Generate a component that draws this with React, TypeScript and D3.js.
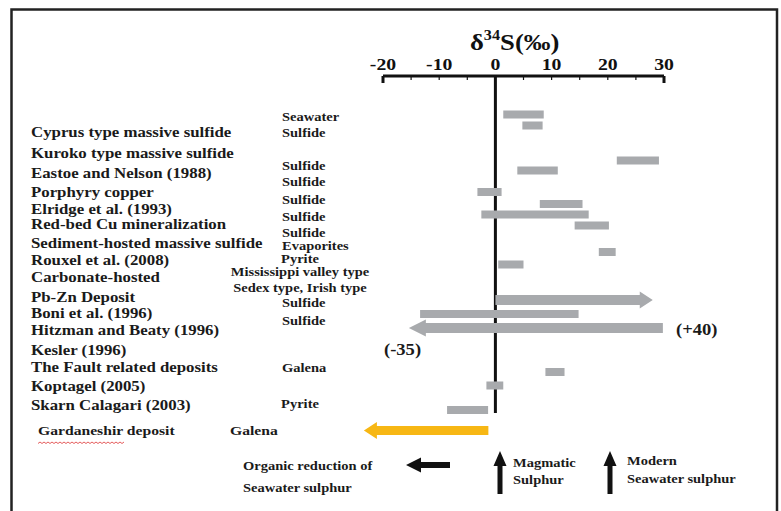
import React from "react";
import * as d3 from "d3";

// ---- data ----
const tickValues = [-20, -10, 0, 10, 20, 30];
const minorTicks = [-20, -15, -10, -5, 5, 10, 15, 20, 25, 30];

// gray ranges: [from, to, row]
const barFrom = [1.4, 4.8, 21.6, 3.9, -3.2, 7.9, -2.5, 14.1, 18.4, 0.5, -13.4, 8.9, -1.6, -8.6];
const barTo = [8.6, 8.4, 29.1, 11.1, 1.1, 15.5, 16.6, 20.2, 21.4, 5.0, 14.8, 12.3, 1.4, -1.3];
const barRow = [1.45, 2.55, 6.05, 7.05, 9.2, 10.4, 11.45, 12.55, 15.2, 16.45, 21.4, 27.2, 28.55, 31.0];

// arrows: tail value, tip value, row
const arrowTail = [0, 29.8];
const arrowTip = [28.0, -15.4];
const arrowRow = [20.0, 22.8];

const gardTail = -1.25;
const gardTip = -23.4;
const gardRow = 33.05;

const leftLabels = [
  "Cyprus type massive sulfide",
  "Kuroko type massive sulfide",
  "Eastoe and Nelson (1988)",
  "Porphyry copper",
  "Elridge et al. (1993)",
  "Red-bed Cu mineralization",
  "Sediment-hosted massive sulfide",
  "Rouxel et al. (2008)",
  "Carbonate-hosted",
  "Pb-Zn Deposit",
  "Boni et al. (1996)",
  "Hitzman and Beaty (1996)",
  "Kesler (1996)",
  "The Fault related deposits",
  "Koptagel (2005)",
  "Skarn Calagari (2003)",
];
const leftRows = [3.2, 5.3, 7.3, 9.2, 10.9, 12.4, 14.3, 16.0, 17.7, 19.7, 21.3, 23.0, 25.0, 26.7, 28.6, 30.5];

const midLeftLabels = ["Seawater", "Sulfide", "Sulfide", "Sulfide", "Sulfide", "Sulfide", "Sulfide", "Evaporites", "Sulfide", "Sulfide", "Galena"];
const midLeftRows = [1.7, 3.3, 6.6, 8.2, 10.0, 11.7, 13.3, 14.6, 20.3, 22.1, 26.8];

const midCenterLabels = ["Pyrite", "Mississippi valley type", "Sedex type, Irish type", "Pyrite"];
const midCenterRows = [15.9, 17.2, 18.8, 30.4];

const rangeNotes = ["(+40)", "(-35)"];

const FONT = "'Liberation Serif', 'Times New Roman', serif";
const SX = 1.16;

type TProps = {
  x: number;
  y: number;
  size: number;
  anchor?: "start" | "middle" | "end";
  children: React.ReactNode;
};
function T({ x, y, size, anchor = "start", children }: TProps) {
  return (
    <text
      transform={`translate(${x},${y}) scale(${SX},1)`}
      textAnchor={anchor}
      dominantBaseline="central"
      fontSize={size}
      fontWeight="bold"
      fill="#1a1a1a"
      fontFamily={FONT}
    >
      {children}
    </text>
  );
}

export default function App() {
  const W = 781, H = 511;
  const x = d3.scaleLinear().domain([-20, 30]).range([383, 664]);
  const y = d3.scaleLinear().domain([0, 34]).range([100, 440]);
  const axisY = 76;
  const gray = "#a8aaad";
  const barH = 8;

  const hArrow = (tail: number, tip: number, cy: number, shaftH: number, headH: number, headL: number) => {
    const xt = x(tail), xp = x(tip);
    const dir = xp > xt ? 1 : -1;
    const xb = xp - dir * headL;
    const p = d3.path();
    p.moveTo(xt, cy - shaftH / 2);
    p.lineTo(xb, cy - shaftH / 2);
    p.lineTo(xb, cy - headH / 2);
    p.lineTo(xp, cy);
    p.lineTo(xb, cy + headH / 2);
    p.lineTo(xb, cy + shaftH / 2);
    p.lineTo(xt, cy + shaftH / 2);
    p.closePath();
    return p.toString();
  };

  const upArrow = (cx: number, tipY: number, baseY: number, shaftW: number, headW: number, headL: number) => {
    const p = d3.path();
    p.moveTo(cx, tipY);
    p.lineTo(cx + headW / 2, tipY + headL);
    p.lineTo(cx + shaftW / 2, tipY + headL);
    p.lineTo(cx + shaftW / 2, baseY);
    p.lineTo(cx - shaftW / 2, baseY);
    p.lineTo(cx - shaftW / 2, tipY + headL);
    p.lineTo(cx - headW / 2, tipY + headL);
    p.closePath();
    return p.toString();
  };

  const leftArrow = () => {
    const p = d3.path();
    const cy = 465, tip = 406, tail = 450, sh = 6, hh = 15, hl = 15;
    p.moveTo(tail, cy - sh / 2);
    p.lineTo(tip + hl, cy - sh / 2);
    p.lineTo(tip + hl, cy - hh / 2);
    p.lineTo(tip, cy);
    p.lineTo(tip + hl, cy + hh / 2);
    p.lineTo(tip + hl, cy + sh / 2);
    p.lineTo(tail, cy + sh / 2);
    p.closePath();
    return p.toString();
  };

  // wavy underline for Gardaneshir
  const wavy = (() => {
    const pts: [number, number][] = [];
    for (let xx = 38; xx <= 124; xx += 2) pts.push([xx, 442 + ((xx / 2) % 2 === 0 ? 0 : 1.5)]);
    return d3.line()(pts) || "";
  })();

  return (
    <svg width={W} height={H} style={{ position: "absolute", left: 0, top: 0, background: "#fff" }} fontFamily={FONT}>
      <rect x={0} y={0} width={W} height={H} fill="#fff" />
      <rect x={11.5} y={9.5} width={765.5} height={520} fill="none" stroke="#222" strokeWidth={2.5} />

      {/* title */}
      <text transform={`translate(470,50) scale(${SX},1)`} fontSize={23} fontWeight="bold" fill="#111">
        δ<tspan fontSize={14} dy={-10}>34</tspan><tspan dy={10}>S(‰)</tspan>
      </text>

      {/* axis */}
      <line x1={x(-20)} x2={x(30)} y1={axisY} y2={axisY} stroke="#111" strokeWidth={3} />
      {minorTicks.map((t) => (
        <line key={"mt" + t} x1={x(t)} x2={x(t)} y1={axisY} y2={axisY + (t === -20 || t === 30 ? 7 : 4)} stroke="#111" strokeWidth={t === -20 || t === 30 ? 3 : 1.2} />
      ))}
      {tickValues.map((t) => (
        <text key={"tl" + t} transform={`translate(${x(t)},${axisY - 6}) scale(${SX},1)`} textAnchor="middle" fontSize={17} fontWeight="bold" fill="#111">
          {t}
        </text>
      ))}
      <line x1={x(0)} x2={x(0)} y1={axisY} y2={413} stroke="#111" strokeWidth={3} />

      {/* gray bars */}
      {barFrom.map((f, i) => (
        <rect key={"b" + i} x={x(f)} width={x(barTo[i]) - x(f)} y={y(barRow[i]) - barH / 2} height={barH} fill={gray} />
      ))}
      {arrowTail.map((t, i) => (
        <path key={"a" + i} d={hArrow(t, arrowTip[i], y(arrowRow[i]), 10, 17, i === 0 ? 13 : 17)} fill={gray} />
      ))}
      <path d={hArrow(gardTail, gardTip, y(gardRow), 9, 17, 13)} fill="#f7b714" />

      <T x={676} y={y(23.0)} size={16}>{rangeNotes[0]}</T>
      <T x={384} y={y(25.0)} size={16}>{rangeNotes[1]}</T>

      {/* left labels */}
      {leftLabels.map((l, i) => (
        <T key={"l" + i} x={31} y={y(leftRows[i])} size={14.5}>{l}</T>
      ))}
      {midLeftLabels.map((l, i) => (
        <T key={"ml" + i} x={282} y={y(midLeftRows[i])} size={12.5}>{l}</T>
      ))}
      {midCenterLabels.map((l, i) => (
        <T key={"mc" + i} x={300} y={y(midCenterRows[i])} size={12.5} anchor="middle">{l}</T>
      ))}

      {/* Gardaneshir */}
      <T x={38} y={y(gardRow)} size={13.5}>Gardaneshir deposit</T>
      <path d={wavy} fill="none" stroke="#d33" strokeWidth={0.8} />
      <T x={230} y={y(gardRow)} size={13.5}>Galena</T>

      {/* legend */}
      <T x={243} y={466} size={12.5}>Organic reduction of</T>
      <T x={243} y={488} size={12.5}>Seawater sulphur</T>
      <path d={leftArrow()} fill="#111" />
      <path d={upArrow(500, 451, 494, 5, 13, 15)} fill="#111" />
      <T x={513} y={463} size={12.5}>Magmatic</T>
      <T x={513} y={480} size={12.5}>Sulphur</T>
      <path d={upArrow(610, 451, 494, 5, 13, 15)} fill="#111" />
      <T x={627} y={461} size={12.5}>Modern</T>
      <T x={627} y={479} size={12.5}>Seawater sulphur</T>
    </svg>
  );
}
